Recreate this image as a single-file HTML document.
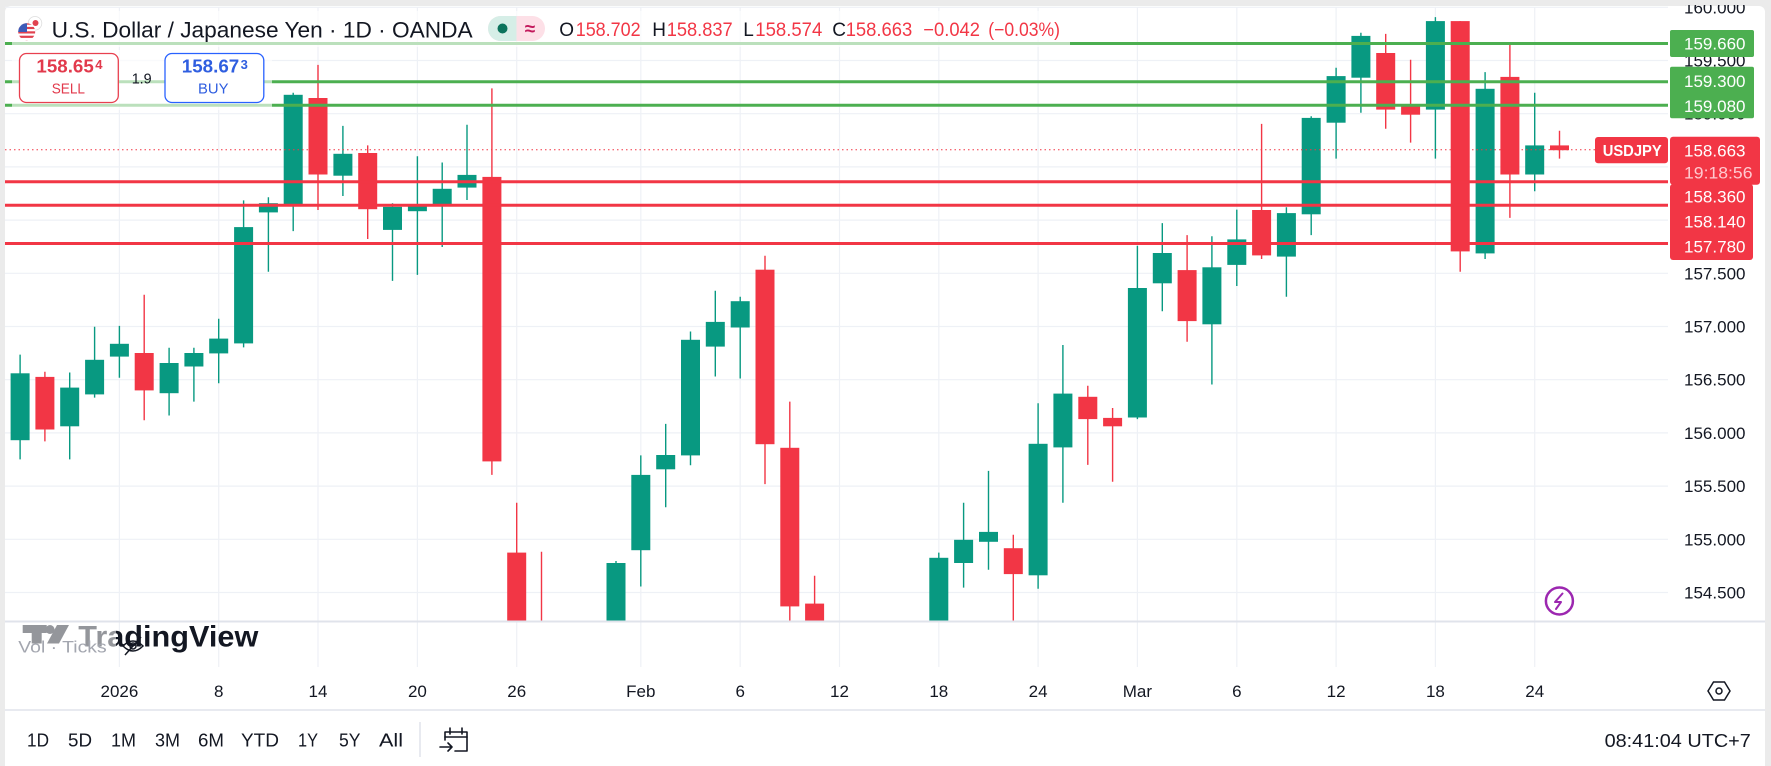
<!DOCTYPE html>
<html>
<head>
<meta charset="utf-8">
<style>
html,body{margin:0;padding:0;background:#ebebeb;}
svg{display:block;font-family:"Liberation Sans",Arial,sans-serif;}
</style>
</head>
<body>
<svg width="1771" height="766" viewBox="0 0 1771 766" xmlns="http://www.w3.org/2000/svg">
<defs>
<clipPath id="pane"><rect x="5" y="6" width="1663" height="615"/></clipPath>
<clipPath id="axis"><rect x="1668" y="5" width="97" height="616"/></clipPath>
<clipPath id="flagc"><circle cx="26.7" cy="31.7" r="8.5"/></clipPath>
</defs>
<rect x="0" y="0" width="1771" height="766" fill="#ebebeb"/>
<rect x="5" y="6" width="1760" height="775" rx="6" fill="#ffffff"/>

<!-- gridlines -->
<g stroke="#eef1f6" stroke-width="1.2" clip-path="url(#pane)">
<path d="M5 7.3H1668M5 60.5H1668M5 113.7H1668M5 166.9H1668M5 220.1H1668M5 273.3H1668M5 326.5H1668M5 379.7H1668M5 432.9H1668M5 486.1H1668M5 539.3H1668M5 592.5H1668"/>
</g>
<g stroke="#eef1f6" stroke-width="1.2">
<path d="M119.4 7V667M218.7 7V667M318 7V667M417.4 7V667M516.7 7V667M640.8 7V667M740.2 7V667M839.5 7V667M938.8 7V667M1038.1 7V667M1137.4 7V667M1236.8 7V667M1336.1 7V667M1435.4 7V667M1534.7 7V667"/>
</g>

<!-- candles -->
<g clip-path="url(#pane)">
<g stroke="#089981" stroke-width="1.4" fill="none">
<path d="M20.1 354.6V459.4M69.7 372.5V459.4M94.6 326.7V397.6M119.4 325.9V377.7M169.1 347.8V415.5M193.9 347.8V401.6M218.7 318.7V383.3M243.6 200.4V347.4M268.4 197.2V271.7M293.2 92.8V231.1M342.9 125.9V196M392.5 203.2V280.9M417.4 156.2V274.9M442.2 162.5V247M467 124.7V200M616 561V640M640.8 455.4V586.5M665.7 423.9V507.2M690.5 331.5V465.3M715.3 290.8V376.5M740.2 296.8V378.5M938.8 552.6V640M963.6 502.8V587.6M988.5 470.9V569.7M1038.1 403.2V588.8M1062.9 345V502.8M1137.4 245.8V419.1M1162.3 223.1V311.2M1211.9 236.3V384.5M1236.8 209.6V286M1286.4 207.2V296.8M1311.2 116.3V235.1M1336.1 67.7V158.6M1360.9 32.7V112.7M1435.4 17.1V158.6M1485.1 72.1V259M1534.7 92.8V191.2"/>
</g>
<g fill="#089981">
<rect x="10.6" y="373.3" width="19" height="66.9"/>
<rect x="60.2" y="387.6" width="19" height="38.7"/>
<rect x="85.1" y="359.8" width="19" height="34.6"/>
<rect x="109.9" y="343.8" width="19" height="12.8"/>
<rect x="159.6" y="363" width="19" height="30.2"/>
<rect x="184.4" y="353" width="19" height="13.5"/>
<rect x="209.2" y="338.6" width="19" height="14.8"/>
<rect x="234.1" y="227.1" width="19" height="116.3"/>
<rect x="258.9" y="203.2" width="19" height="9.2"/>
<rect x="283.7" y="94.8" width="19" height="111.6"/>
<rect x="333.4" y="153.8" width="19" height="21.9"/>
<rect x="383" y="206.8" width="19" height="23.1"/>
<rect x="407.9" y="204.4" width="19" height="6.8"/>
<rect x="432.7" y="188.8" width="19" height="16.4"/>
<rect x="457.5" y="174.9" width="19" height="12.7"/>
<rect x="606.5" y="563" width="19" height="77"/>
<rect x="631.3" y="474.9" width="19" height="75.3"/>
<rect x="656.2" y="455" width="19" height="14.3"/>
<rect x="681" y="339.8" width="19" height="115.6"/>
<rect x="705.8" y="321.9" width="19" height="24.7"/>
<rect x="730.7" y="301.2" width="19" height="26.3"/>
<rect x="929.3" y="557.8" width="19" height="82"/>
<rect x="954.1" y="539.8" width="19" height="23.2"/>
<rect x="979" y="531.9" width="19" height="9.9"/>
<rect x="1028.6" y="443.8" width="19" height="131.5"/>
<rect x="1053.4" y="393.6" width="19" height="53.8"/>
<rect x="1127.9" y="288" width="19" height="129.5"/>
<rect x="1152.8" y="253" width="19" height="30.3"/>
<rect x="1202.4" y="267.3" width="19" height="57"/>
<rect x="1227.3" y="239.4" width="19" height="25.5"/>
<rect x="1276.9" y="213.1" width="19" height="43.5"/>
<rect x="1301.7" y="117.9" width="19" height="96.4"/>
<rect x="1326.6" y="76.1" width="19" height="46.6"/>
<rect x="1351.4" y="35.9" width="19" height="41.8"/>
<rect x="1425.9" y="21.1" width="19" height="88.5"/>
<rect x="1475.6" y="88.8" width="19" height="164.6"/>
<rect x="1525.2" y="145.4" width="19" height="29.1"/>
</g>
<g stroke="#f23645" stroke-width="1.4" fill="none">
<path d="M44.9 371.7V441.4M144.2 294.8V420.3M318 64.9V210M367.7 145.4V239M491.9 88.4V474.9M516.7 502.8V640M541.5 551.8V640M765 255.8V484.1M789.8 401.6V640M814.6 575.7V640M1013.3 534.7V640M1087.8 385.7V464.9M1112.6 408V481.7M1187.1 235.1V341.8M1261.6 123.9V259M1385.7 33.9V128.7M1410.6 59.8V142.6M1460.2 21.1V271.7M1509.9 43V217.9M1559.5 130.7V158.6"/>
</g>
<g fill="#f23645">
<rect x="35.4" y="376.9" width="19" height="52.6"/>
<rect x="134.7" y="353" width="19" height="37.4"/>
<rect x="308.5" y="98" width="19" height="76.5"/>
<rect x="358.2" y="153" width="19" height="56.2"/>
<rect x="482.4" y="176.9" width="19" height="284.5"/>
<rect x="507.2" y="552.6" width="19" height="87.4"/>
<rect x="755.5" y="269.7" width="19" height="174.5"/>
<rect x="780.3" y="447.8" width="19" height="158.6"/>
<rect x="805.1" y="603.6" width="19" height="36.4"/>
<rect x="1003.8" y="548.2" width="19" height="25.9"/>
<rect x="1078.3" y="396.8" width="19" height="22.3"/>
<rect x="1103.1" y="417.9" width="19" height="8.4"/>
<rect x="1177.6" y="270.1" width="19" height="51"/>
<rect x="1252.1" y="210" width="19" height="45.4"/>
<rect x="1376.2" y="53" width="19" height="56.6"/>
<rect x="1401.1" y="106" width="19" height="8.7"/>
<rect x="1450.7" y="21.1" width="19" height="230.3"/>
<rect x="1500.4" y="76.9" width="19" height="97.6"/>
<rect x="1550" y="145.4" width="19" height="4.8"/>
</g>
</g>

<!-- horizontal drawings -->
<g stroke-width="3" fill="none">
<path d="M5 43.5H1668M5 81.7H1668M5 105.2H1668" stroke="#4caf50"/>
<path d="M5 181.8H1668M5 205.2H1668M5 243.5H1668" stroke="#f23645"/>
</g>
<path d="M5 149.8H1595" stroke="#f23645" stroke-width="1" stroke-dasharray="1.5 3"/>

<!-- header overlays -->
<rect x="12" y="11" width="1058" height="36" fill="#ffffff" opacity="0.62"/>
<rect x="12" y="50" width="260" height="60" fill="#ffffff" opacity="0.62"/>

<!-- header -->
<circle cx="35" cy="23.3" r="6.8" fill="#ffffff" stroke="#dddddd" stroke-width="0.8"/>
<circle cx="35.5" cy="23" r="3" fill="#e0424f"/>
<g clip-path="url(#flagc)">
<rect x="17" y="22" width="20" height="20" fill="#ffffff"/>
<rect x="17" y="22.5" width="20" height="2.2" fill="#e0424f"/>
<rect x="17" y="26.9" width="20" height="2.2" fill="#e0424f"/>
<rect x="17" y="31.3" width="20" height="2.2" fill="#e0424f"/>
<rect x="17" y="35.7" width="20" height="2.2" fill="#e0424f"/>
<rect x="17" y="40.1" width="20" height="2.2" fill="#e0424f"/>
<rect x="17" y="22" width="10" height="10" fill="#3c5bb8"/>
</g>
<text x="51.7" y="37.3" font-size="22" fill="#131722" textLength="421" lengthAdjust="spacingAndGlyphs">U.S. Dollar / Japanese Yen · 1D · OANDA</text>
<rect x="488" y="16" width="57" height="25" rx="12.5" fill="#fde0e7"/>
<path d="M500.5 16H516.5V41H500.5A12.5 12.5 0 0 1 500.5 16Z" fill="#d6eee7"/>
<circle cx="502.5" cy="28.5" r="5" fill="#0b735c"/>
<text x="530" y="35" font-size="19" font-weight="bold" fill="#c2185b" text-anchor="middle">≈</text>
<g font-size="19">
<text x="559.3" y="36" fill="#131722">O</text>
<text x="575.7" y="36" fill="#f23645" textLength="65" lengthAdjust="spacingAndGlyphs">158.702</text>
<text x="652.3" y="36" fill="#131722">H</text>
<text x="666.7" y="36" fill="#f23645" textLength="66" lengthAdjust="spacingAndGlyphs">158.837</text>
<text x="743.3" y="36" fill="#131722">L</text>
<text x="755.3" y="36" fill="#f23645" textLength="67" lengthAdjust="spacingAndGlyphs">158.574</text>
<text x="832.3" y="36" fill="#131722">C</text>
<text x="845.7" y="36" fill="#f23645" textLength="66.6" lengthAdjust="spacingAndGlyphs">158.663</text>
<text x="923.3" y="36" fill="#f23645" textLength="56.7" lengthAdjust="spacingAndGlyphs">−0.042</text>
<text x="988.3" y="36" fill="#f23645" textLength="71.7" lengthAdjust="spacingAndGlyphs">(−0.03%)</text>
</g>

<!-- sell / buy -->
<rect x="19.5" y="53.5" width="98.8" height="49" rx="7" fill="#ffffff" stroke="#e8404f" stroke-width="1.3"/>
<text x="36.4" y="72.7" font-size="18" font-weight="bold" fill="#e23a4c" textLength="57.4" lengthAdjust="spacingAndGlyphs">158.65</text>
<text x="95.2" y="68.8" font-size="13" font-weight="bold" fill="#e23a4c">4</text>
<text x="51.7" y="93.3" font-size="15" fill="#e23a4c" textLength="33.3" lengthAdjust="spacingAndGlyphs">SELL</text>
<text x="131.7" y="83.3" font-size="15" fill="#131722" textLength="20" lengthAdjust="spacingAndGlyphs">1.9</text>
<rect x="165" y="53.5" width="98.8" height="49" rx="7" fill="#ffffff" stroke="#2962ff" stroke-width="1.3"/>
<text x="181.8" y="72.7" font-size="18" font-weight="bold" fill="#2f5ee0" textLength="57.4" lengthAdjust="spacingAndGlyphs">158.67</text>
<text x="240.6" y="68.8" font-size="13" font-weight="bold" fill="#2f5ee0">3</text>
<text x="198" y="93.3" font-size="15" fill="#2f5ee0" textLength="30.5" lengthAdjust="spacingAndGlyphs">BUY</text>

<!-- price axis -->
<g clip-path="url(#axis)" font-size="17" fill="#131722">
<text x="1684" y="13.3" textLength="61.5" lengthAdjust="spacingAndGlyphs">160.000</text>
<text x="1684" y="66.5" textLength="61.5" lengthAdjust="spacingAndGlyphs">159.500</text>
<text x="1684" y="119.7" textLength="61.5" lengthAdjust="spacingAndGlyphs">159.000</text>
<text x="1684" y="172.9" textLength="61.5" lengthAdjust="spacingAndGlyphs">158.500</text>
<text x="1684" y="226.1" textLength="61.5" lengthAdjust="spacingAndGlyphs">158.000</text>
<text x="1684" y="279.3" textLength="61.5" lengthAdjust="spacingAndGlyphs">157.500</text>
<text x="1684" y="332.5" textLength="61.5" lengthAdjust="spacingAndGlyphs">157.000</text>
<text x="1684" y="385.7" textLength="61.5" lengthAdjust="spacingAndGlyphs">156.500</text>
<text x="1684" y="438.9" textLength="61.5" lengthAdjust="spacingAndGlyphs">156.000</text>
<text x="1684" y="492.1" textLength="61.5" lengthAdjust="spacingAndGlyphs">155.500</text>
<text x="1684" y="545.3" textLength="61.5" lengthAdjust="spacingAndGlyphs">155.000</text>
<text x="1684" y="598.5" textLength="61.5" lengthAdjust="spacingAndGlyphs">154.500</text>
</g>
<g font-size="17" fill="#ffffff">
<rect x="1670" y="30" width="84" height="27" rx="2" fill="#4caf50"/>
<text x="1684" y="49.3" textLength="61.5" lengthAdjust="spacingAndGlyphs">159.660</text>
<rect x="1670" y="66.7" width="84" height="51.6" rx="2" fill="#4caf50"/>
<text x="1684" y="87" textLength="61.5" lengthAdjust="spacingAndGlyphs">159.300</text>
<text x="1684" y="112" textLength="61.5" lengthAdjust="spacingAndGlyphs">159.080</text>
<rect x="1670" y="136.7" width="90" height="48" rx="3" fill="#f23645"/>
<rect x="1670" y="184" width="83" height="76" rx="3" fill="#f23645"/>
<text x="1684" y="156.7" textLength="61.5" lengthAdjust="spacingAndGlyphs">158.663</text>
<text x="1684" y="178.3" fill="#ffc9cf" textLength="68.5" lengthAdjust="spacingAndGlyphs">19:18:56</text>
<text x="1684" y="202.7" textLength="61.5" lengthAdjust="spacingAndGlyphs">158.360</text>
<text x="1684" y="227.7" textLength="61.5" lengthAdjust="spacingAndGlyphs">158.140</text>
<text x="1684" y="252.7" textLength="61.5" lengthAdjust="spacingAndGlyphs">157.780</text>
<rect x="1595" y="137" width="73" height="26.3" rx="3" fill="#f23645"/>
<text x="1602.7" y="156" font-size="16" font-weight="bold" textLength="59" lengthAdjust="spacingAndGlyphs">USDJPY</text>
</g>

<!-- lightning icon -->
<circle cx="1559.4" cy="601" r="13.5" fill="#ffffff" stroke="#9c27b0" stroke-width="2.5"/>
<path d="M1562.5 593.5L1555 602H1561L1556 609" fill="none" stroke="#9c27b0" stroke-width="2" stroke-linejoin="round" stroke-linecap="round"/>

<!-- separators -->
<path d="M5 621.5H1765" stroke="#e0e3eb" stroke-width="2"/>
<path d="M5 710H1765" stroke="#e0e3eb" stroke-width="1.5"/>

<!-- watermark / volume legend -->
<g fill="#131722">
<rect x="22.7" y="625" width="24" height="8"/>
<rect x="31.7" y="625" width="10" height="18.5"/>
<circle cx="50" cy="629.5" r="4.5"/>
<polygon points="57,625 69,625 59,643.5 47,643.5"/>
<text x="78.3" y="646.7" font-size="30" font-weight="bold" textLength="180" lengthAdjust="spacingAndGlyphs">TradingView</text>
</g>
<rect x="15" y="622.5" width="101" height="40" fill="#ffffff" opacity="0.55"/>
<text x="18.3" y="652.7" font-size="17" fill="#a3a6af" textLength="88.4" lengthAdjust="spacingAndGlyphs">Vol · Ticks</text>
<g fill="none" stroke="#131722" stroke-width="1.5">
<path d="M123 646Q133 636 143 646Q133 656 123 646Z"/>
<circle cx="133" cy="646" r="3"/>
<path d="M125 655L141 637"/>
</g>

<!-- time axis -->
<g font-size="17" fill="#131722" text-anchor="middle">
<text x="119.4" y="697">2026</text>
<text x="218.7" y="697">8</text>
<text x="318" y="697">14</text>
<text x="417.4" y="697">20</text>
<text x="516.7" y="697">26</text>
<text x="640.8" y="697">Feb</text>
<text x="740.2" y="697">6</text>
<text x="839.5" y="697">12</text>
<text x="938.8" y="697">18</text>
<text x="1038.1" y="697">24</text>
<text x="1137.4" y="697">Mar</text>
<text x="1236.8" y="697">6</text>
<text x="1336.1" y="697">12</text>
<text x="1435.4" y="697">18</text>
<text x="1534.7" y="697">24</text>
</g>
<g fill="none" stroke="#131722" stroke-width="1.5">
<polygon points="1713.5,682 1724.5,682 1730,691 1724.5,700 1713.5,700 1708,691"/>
<circle cx="1719" cy="691" r="3"/>
</g>

<!-- toolbar -->
<g font-size="18" fill="#131722">
<text x="27" y="746.5" textLength="22" lengthAdjust="spacingAndGlyphs">1D</text>
<text x="68" y="746.5" textLength="24" lengthAdjust="spacingAndGlyphs">5D</text>
<text x="111" y="746.5" textLength="25" lengthAdjust="spacingAndGlyphs">1M</text>
<text x="155" y="746.5" textLength="25" lengthAdjust="spacingAndGlyphs">3M</text>
<text x="198" y="746.5" textLength="26" lengthAdjust="spacingAndGlyphs">6M</text>
<text x="241" y="746.5" textLength="38" lengthAdjust="spacingAndGlyphs">YTD</text>
<text x="298" y="746.5" textLength="20" lengthAdjust="spacingAndGlyphs">1Y</text>
<text x="339" y="746.5" textLength="21.5" lengthAdjust="spacingAndGlyphs">5Y</text>
<text x="379" y="746.5" textLength="24" lengthAdjust="spacingAndGlyphs">All</text>
<text x="1604.6" y="747" textLength="146.2" lengthAdjust="spacingAndGlyphs">08:41:04 UTC+7</text>
</g>
<path d="M420 722V757" stroke="#e0e3eb" stroke-width="1.5"/>
<g fill="none" stroke="#131722" stroke-width="1.6" stroke-linecap="round" stroke-linejoin="round">
<path d="M445 740V732H467V751H455"/>
<path d="M445 737H467"/>
<path d="M450 728V734M462 728V734"/>
<path d="M440 747H452M448 743L452 747L448 751"/>
</g>
</svg>
</body>
</html>
